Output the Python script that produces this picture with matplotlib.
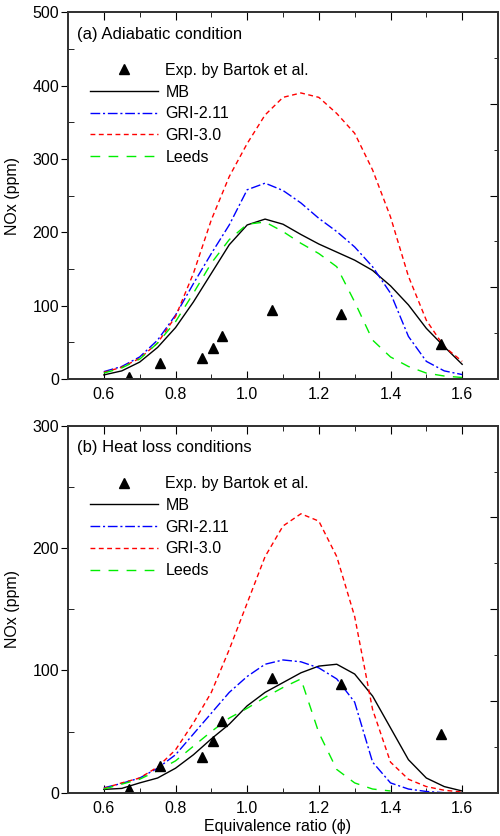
import matplotlib.pyplot as plt
from matplotlib.ticker import MultipleLocator, FixedLocator, NullFormatter

plt.rcParams['font.family'] = ['Liberation Sans', 'DejaVu Sans']

# ---------------- data ----------------
phi = [0.60, 0.65, 0.70, 0.75, 0.80, 0.85, 0.90, 0.95, 1.00, 1.05, 1.10,
       1.15, 1.20, 1.25, 1.30, 1.35, 1.40, 1.45, 1.50, 1.55, 1.60]

exp_phi = [0.670, 0.757, 0.875, 0.906, 0.929, 1.068, 1.263, 1.540]
exp_nox = [3, 22, 29, 42, 59, 94, 89, 48]

# (a) adiabatic
mb_a = [5.5, 11, 23, 43, 70, 105, 144, 183, 210, 218, 211,
        197, 184, 173, 162, 148, 127, 101, 69, 44, 20]
gri211_a = [10, 17, 30, 53, 87, 130, 171, 210, 258, 267, 257,
            240, 219, 201, 180, 153, 117, 58, 24, 11, 6]
gri30_a = [9, 16, 28, 49, 85, 144, 217, 276, 321, 360, 384,
           390, 384, 362, 335, 285, 221, 140, 80, 44, 24]
leeds_a = [8, 15, 27, 49, 78, 117, 158, 190, 211, 214, 201,
           185, 171, 153, 105, 53, 30, 17, 8, 4, 2]

# (b) heat loss
mb_b = [2.7, 3.5, 8, 12, 20, 31, 44, 56, 71, 82, 90,
        98, 103.5, 105, 97, 79, 53, 27, 12, 5, 1.4]
gri211_b = [4, 7.6, 12, 20, 31, 48, 65, 82, 95, 105, 108.5,
            107, 102, 93, 74, 25, 8, 3, 1, 0, 0]
gri30_b = [3.5, 8, 12, 21, 35, 57, 82, 117, 155, 193, 218,
           228, 222, 193, 144, 68, 25, 11, 5, 2, 0.5]
leeds_b = [3, 7, 11, 18, 26, 38, 50, 61, 69, 78, 86,
           93, 49, 19, 8, 3, 1.4]

panels = [
    ("(a) Adiabatic condition", mb_a, gri211_a, gri30_a, leeds_a, 500),
    ("(b) Heat loss conditions", mb_b, gri211_b, gri30_b, leeds_b, 300),
]

fig = plt.figure(figsize=(5, 8.36), dpi=100)
axes = [fig.add_axes([0.136, 0.5467, 0.860, 0.4386]),
        fig.add_axes([0.136, 0.0518, 0.860, 0.4390])]

for ax, (title, mb, g211, g30, leeds, ymax) in zip(axes, panels):
    ax.plot(exp_phi, exp_nox, linestyle='none', marker='^', color='black',
            markersize=7.5, label='Exp. by Bartok et al.', zorder=5)
    ax.plot(phi, mb, color='black', lw=1.0, label='MB')
    ax.plot(phi, g211, color='#0000ff', lw=1.0, dashes=(7, 2, 1.5, 2),
            label='GRI-2.11')
    ax.plot(phi, g30, color='#ff0000', lw=1.0, dashes=(3.5, 2.5),
            label='GRI-3.0')
    ax.plot(phi[:len(leeds)], leeds, color='#00ee00', lw=1.0, dashes=(7, 6),
            label='Leeds')

    ax.set_xlim(0.5, 1.7)
    ax.set_ylim(0, ymax)

    ax.xaxis.set_major_locator(FixedLocator([0.6, 0.8, 1.0, 1.2, 1.4, 1.6]))
    ax.xaxis.set_minor_locator(FixedLocator([0.7, 0.9, 1.1, 1.3, 1.5]))
    ax.xaxis.set_major_formatter(plt.FuncFormatter(lambda v, p: f"{v:.1f}"))
    ax.yaxis.set_major_locator(MultipleLocator(100))
    ax.yaxis.set_minor_locator(MultipleLocator(50))

    ax.tick_params(axis='x', which='both', direction='in', top=True,
                   labelsize=11.5, pad=6)
    ax.tick_params(axis='x', which='major', length=6)
    ax.tick_params(axis='x', which='minor', length=3.5)
    ax.tick_params(axis='y', which='major', direction='out', length=5,
                   labelsize=11.5, pad=1.5, right=False)
    ax.tick_params(axis='y', which='minor', direction='in', length=4,
                   right=False)

    # right-side ticks: eight divisions of the range
    rax = ax.twinx()
    rax.set_ylim(0, 8)
    rax.yaxis.set_major_locator(FixedLocator([2, 4, 6]))
    rax.yaxis.set_minor_locator(FixedLocator([1, 3, 5, 7]))
    rax.yaxis.set_major_formatter(NullFormatter())
    rax.tick_params(which='major', direction='in', length=6)
    rax.tick_params(which='minor', direction='in', length=3)

    for a in (ax, rax):
        for sp in a.spines.values():
            sp.set_linewidth(1.3)
            sp.set_color('#333333')

    ax.set_ylabel("NOx (ppm)", fontsize=11.5)
    ax.yaxis.set_label_coords(-0.111, 0.5)

    ax.text(0.021, 0.94, title, transform=ax.transAxes, fontsize=12,
            va='center', ha='left')

    ax.legend(loc='upper left', bbox_to_anchor=(0.05, 0.862), frameon=False,
              fontsize=11.5, handlelength=4.3, handletextpad=0.45,
              labelspacing=0.42, borderpad=0, borderaxespad=0)

axes[1].set_xlabel("Equivalence ratio (\u03d5)", fontsize=11.5)
axes[1].xaxis.set_label_coords(0.487, -0.071)

fig.savefig("out.png", dpi=100)
